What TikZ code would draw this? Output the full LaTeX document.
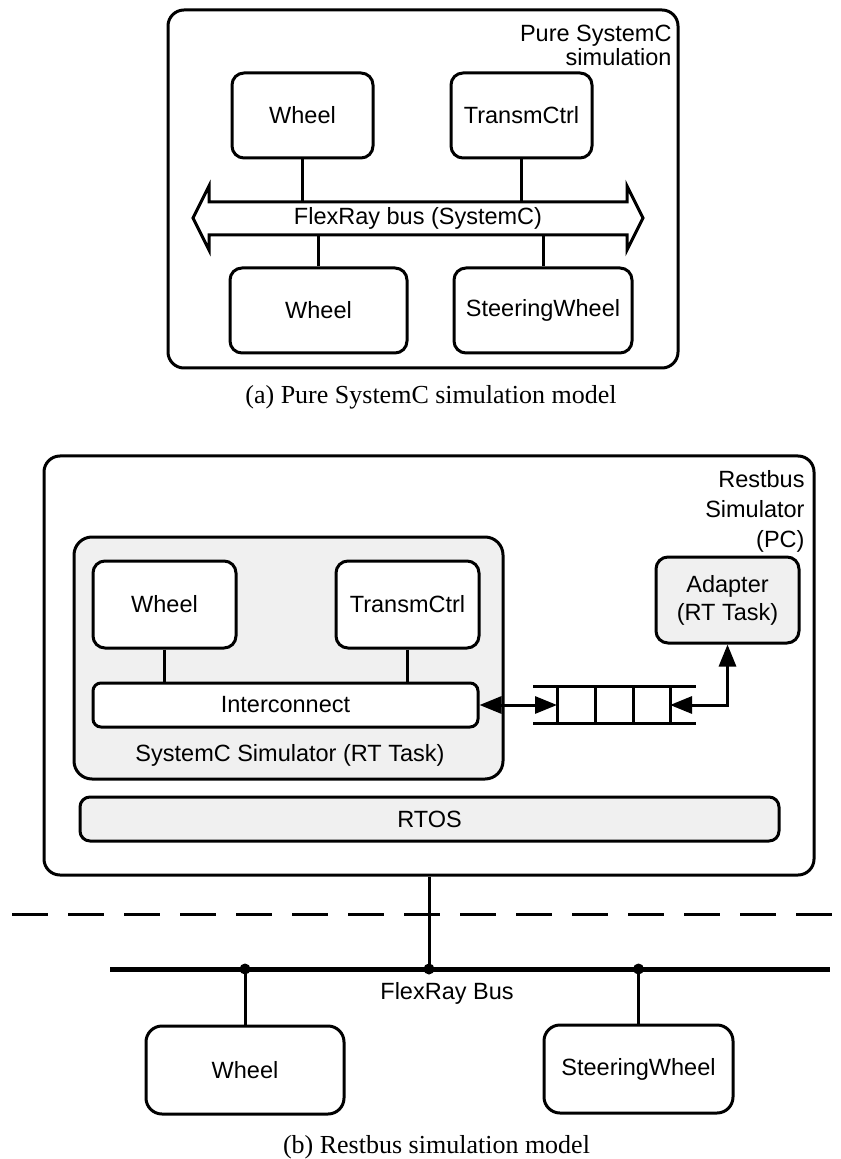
\documentclass[tikz,border=0pt]{standalone}
\usepackage{fontspec}
\setmainfont{Liberation Serif}
\setsansfont{Liberation Sans}
\usetikzlibrary{arrows.meta}
\definecolor{panelgray}{HTML}{F0F0F0}

\begin{document}
\begin{tikzpicture}[x=0.5pt,y=-0.5pt,
  every node/.style={font=\sffamily\fontsize{11.75}{14}\selectfont},
  line width=1.5pt,
  >={Triangle[length=11pt,width=8.5pt]},
  comp/.style={draw, line width=1.5pt, rounded corners=6pt, inner sep=0pt, align=center},
  frame/.style={draw, line width=1.5pt, rounded corners=8pt, inner sep=0pt},
  shaded/.style={comp, fill=panelgray},
  wire/.style={line width=1.5pt},
  dot/.style={circle, fill=black, inner sep=0pt, minimum size=5.5pt},
  caption/.style={font=\rmfamily\fontsize{13}{15}\selectfont}
]
\useasboundingbox (0,0) rectangle (840,1159);

% ---------- (a) pure SystemC simulation ----------
\node[frame, minimum width=255pt, minimum height=179pt] (simA) at (423,189) {};
\node[anchor=north east, align=right, inner sep=0pt,
      font=\sffamily\fontsize{11.75}{10.5}\selectfont] (simAlbl) at (673,23.5)
      {Pure SystemC\\simulation};

\node[comp, minimum width=70.5pt, minimum height=42.5pt] (wA1) at (302.5,115.5) {Wheel};
\node[comp, minimum width=70.5pt, minimum height=42.5pt] (tcA) at (521.5,115.5) {TransmCtrl};
\node[comp, minimum width=88.5pt, minimum height=42.5pt] (wA2) at (318.5,310.5) {Wheel};
\node[comp, minimum width=89pt, minimum height=42.5pt] (swA) at (543,310.5) {SteeringWheel};

% SystemC bus as a double arrow
\draw[line width=1.5pt, line join=miter]
  (193,218) -- (209,186) -- (209,202) -- (627,202) -- (627,186) -- (643,218)
  -- (627,250) -- (627,235) -- (209,235) -- (209,250) -- cycle;
\coordinate (busAtop) at (0,202);
\coordinate (busAbot) at (0,235);
\node (busA) at (418,218) {FlexRay bus (SystemC)};

\draw[wire] (wA1.south) -- (wA1.south |- busAtop);
\draw[wire] (tcA.south) -- (tcA.south |- busAtop);
\draw[wire] (wA2.north) -- (wA2.north |- busAbot);
\draw[wire] (swA.north) -- (swA.north |- busAbot);

\node[caption] (capA) at (431,397) {(a) Pure SystemC simulation model};

% ---------- (b) restbus simulation ----------
\node[frame, minimum width=385pt, minimum height=209.5pt] (rbs) at (429,665.5) {};
\node[anchor=north east, align=right, inner sep=0pt,
      font=\sffamily\fontsize{11.75}{15}\selectfont] (rbsLbl) at (806,468.5)
      {Restbus\\Simulator\\(PC)};

\node[shaded, rounded corners=9pt, minimum width=214.5pt, minimum height=121pt] (scsim) at (288.5,658) {};
\node (scsimLbl) at (290,755) {SystemC Simulator (RT Task)};

\node[comp, minimum width=71.5pt, minimum height=43.5pt, fill=white] (wB1) at (164.5,604.5) {Wheel};
\node[comp, minimum width=71.5pt, minimum height=43.5pt, fill=white] (tcB) at (407.5,604.5) {TransmCtrl};
\node[comp, rounded corners=4pt, minimum width=192.5pt, minimum height=22pt, fill=white] (ic) at (285.5,705) {Interconnect};
\draw[wire] (wB1.south) -- (wB1.south |- ic.north);
\draw[wire] (tcB.south) -- (tcB.south |- ic.north);

\node[shaded, minimum width=71.5pt, minimum height=43pt,
      font=\sffamily\fontsize{11.75}{14}\selectfont] (adapt) at (727.5,600) {Adapter\\(RT Task)};

\node[shaded, rounded corners=5pt, minimum width=349.5pt, minimum height=22pt] (rtos) at (429.5,819) {RTOS};

% message queue between simulator and adapter
\coordinate (qTL) at (533,686);
\coordinate (qTR) at (696,686);
\coordinate (qBL) at (533,723);
\coordinate (qBR) at (696,723);
\draw[wire] (qTL) -- (qTR);
\draw[wire] (qBL) -- (qBR);
\coordinate (q1) at (557,705);
\coordinate (q4) at (670,705);
\foreach \qx in {557,595,633,670} \draw[wire] (\qx,686) -- (\qx,723);

\draw[wire, <->] (ic.east) -- (q1);
\draw[wire, <->] (q4) -| (adapt.south);

% physical FlexRay bus
\draw[line width=1.5pt, dash pattern=on 18pt off 10pt] (12,914) -- (840,914);
\coordinate (busL) at (110,969);
\coordinate (busR) at (830,969);
\draw[line width=2.5pt] (busL) -- (busR);
\node[dot] (d1) at (245,969) {};
\node[dot] (d2) at (429,969) {};
\node[dot] (d3) at (638.5,969) {};
\draw[wire] (rbs.south) -- (d2.center);
\node (busB) at (447,993) {FlexRay Bus};

\node[comp, rounded corners=8pt, minimum width=99pt, minimum height=44pt] (wB2) at (245,1070) {Wheel};
\node[comp, rounded corners=8pt, minimum width=94.5pt, minimum height=44pt] (swB) at (638.5,1069) {SteeringWheel};
\draw[wire] (d1.center) -- (wB2.north);
\draw[wire] (d3.center) -- (swB.north);

\node[caption] (capB) at (436.5,1147.5) {(b) Restbus simulation model};
\end{tikzpicture}
\end{document}
